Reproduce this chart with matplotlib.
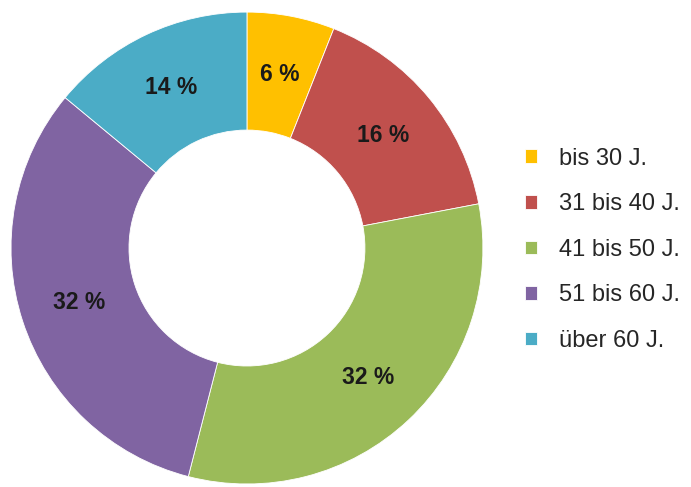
import matplotlib
matplotlib.use('Agg')
import matplotlib.pyplot as plt

labels = ['bis 30 J.', '31 bis 40 J.', '41 bis 50 J.', '51 bis 60 J.', 'über 60 J.']
values = [6, 16, 32, 32, 14]
colors = ['#FFC000', '#C0504D', '#9BBB59', '#8064A2', '#4BACC6']

plt.rcParams['font.family'] = ['Liberation Sans', 'DejaVu Sans']

fig = plt.figure(figsize=(6.91, 4.87), dpi=100)
ax = fig.add_axes([0.0159, 0.0062, 0.683, 0.969])

wedges, texts, autotexts = ax.pie(values, colors=colors, startangle=90, counterclock=False,
                                  radius=1, autopct='%d %%', pctdistance=0.75,
                                  wedgeprops=dict(width=0.5, edgecolor='white', linewidth=0.6),
                                  textprops=dict(fontsize=16.5, fontweight='bold', color='#1a1a1a'))
ax.set_xlim(-1, 1)
ax.set_ylim(-1, 1)
ax.set_aspect('equal')

fig.legend(wedges, labels, loc='center left', bbox_to_anchor=(0.760, 0.487),
           frameon=False, fontsize=17, handlelength=0.5, handleheight=0.5,
           handletextpad=0.95, labelspacing=1.0, borderpad=0, borderaxespad=0,
           labelcolor='#262626')

fig.savefig('out.png', dpi=100)
